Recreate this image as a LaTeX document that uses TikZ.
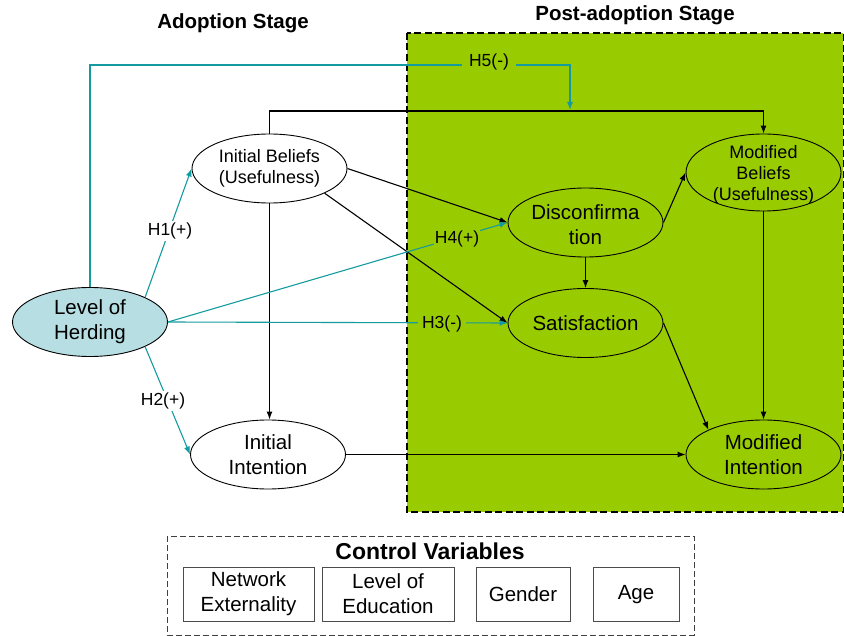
\documentclass[tikz,border=0pt]{standalone}
\usepackage{fontspec}
\setmainfont{Liberation Sans}
\usetikzlibrary{shapes.geometric,arrows.meta}
\definecolor{pgreen}{RGB}{153,204,0}
\definecolor{hteal}{RGB}{20,155,160}
\definecolor{hblue}{RGB}{183,222,227}
\begin{document}
\begin{tikzpicture}[x=1pt,y=-1pt,
  ell/.style={ellipse,draw,line width=0.9pt,minimum width=155pt,minimum height=69pt,inner sep=0pt},
  txt/.style={align=center,inner sep=0pt,font=\fontsize{20.5}{25}\selectfont},
  stxt/.style={align=center,inner sep=0pt,font=\fontsize{18}{21}\selectfont},
  lab/.style={font=\fontsize{17.5}{20}\selectfont,inner sep=2pt},
  conn/.style={line width=1.1pt,-{Latex[length=8pt,width=6pt]}},
  hconn/.style={conn,hteal},
  ttl/.style={font=\fontsize{20.5}{24}\selectfont\bfseries,inner sep=0pt},
  cbox/.style={draw=black!70,line width=1pt,minimum width=#1,minimum height=54pt,align=center,inner sep=0pt,font=\fontsize{20.5}{25}\selectfont}
]
\useasboundingbox (0,0) rectangle (844,636);
% post-adoption region
\draw[fill=pgreen,line width=1.2pt,dash pattern=on 7pt off 3.5pt] (407,33) rectangle (843.4,512);
\node[ttl] (t1) at (233,23) {Adoption Stage};
\node[ttl] (t2) at (635,15) {Post-adoption Stage};

% ellipses
\node[ell,fill=hblue] (herd) at (90,322) {};
\node[ell,fill=white] (ib) at (269.5,168.5) {};
\node[ell,fill=white] (ii) at (268,454.5) {};
\node[ell] (disc) at (585.5,222.5) {};
\node[ell] (sat) at (585.5,323) {};
\node[ell,minimum height=77pt] (mb) at (763.5,172.5) {};
\node[ell] (mi) at (763.5,454.5) {};

\node[txt] (herdt) at (herd) {Level of\\Herding};
\node[stxt] (ibt) at (ib) {Initial Beliefs\\(Usefulness)};
\node[txt] (iit) at (ii) {Initial\\Intention};
\node[txt] (disct) at (585.5,225) {Disconfirma\\tion};
\node[txt] (satt) at (sat) {Satisfaction};
\node[stxt] (mbt) at (763.5,175) {Modified\\Beliefs\\(Usefulness)};
\node[txt] (mit) at (mi) {Modified\\Intention};

% coordinates
\coordinate (topline) at (500,111);
\coordinate (h5c) at (570,65);
\coordinate (h5end) at (570,110);

% black connectors
\draw[conn] (ib.north) |- (topline) -| (mb.north);
\draw[conn] (ib.east) -- (disc.west);
\draw[conn] (ib.south east) -- (sat.west);
\draw[conn] (ib.south) -- (ib.south |- ii.north);
\draw[conn] (ii.east) -- (mi.west);
\draw[conn] (disc.east) -- (mb.west);
\draw[conn] (disc.south) -- (sat.north);
\draw[conn] (sat.east) -- (mi.north west);
\draw[conn] (mb.south) -- (mi.north);

% teal connectors
\draw[hconn] (herd.north) |- (h5c) -- (h5end);
\draw[hconn] (herd.north east) -- (ib.west);
\draw[hconn] (herd.south east) -- (ii.west);
\draw[hconn] (herd.east) -- (disc.west);
\draw[hconn] (herd.east) -- (sat.west);

% labels
\node[lab,fill=white] (h1) at (170,231) {H1(+)};
\node[lab,fill=white] (h2) at (163,401) {H2(+)};
\node[lab,fill=pgreen,inner xsep=4pt] (h3) at (442,324) {H3(-)};
\node[lab,fill=pgreen,inner sep=1pt] (h4) at (457,239) {H4(+)};
\node[lab,fill=pgreen,inner xsep=7pt] (h5) at (489,62) {H5(-)};

% control variables
\draw[draw=black!75,line width=0.8pt,dash pattern=on 6pt off 3pt] (167,536) rectangle (694,635);
\node[font=\fontsize{23}{26}\selectfont\bfseries,inner sep=0pt] (cv) at (430,551) {Control Variables};
\node[cbox=131pt] (c1) at (248.5,594) {Network\\Externality};
\node[cbox=132pt] (c2) at (388,594) {Level of\\Education};
\node[cbox=94pt] (c3) at (523,594) {Gender};
\node[cbox=86pt] (c4) at (636,594) {\vphantom{d}Age};
\end{tikzpicture}
\end{document}
